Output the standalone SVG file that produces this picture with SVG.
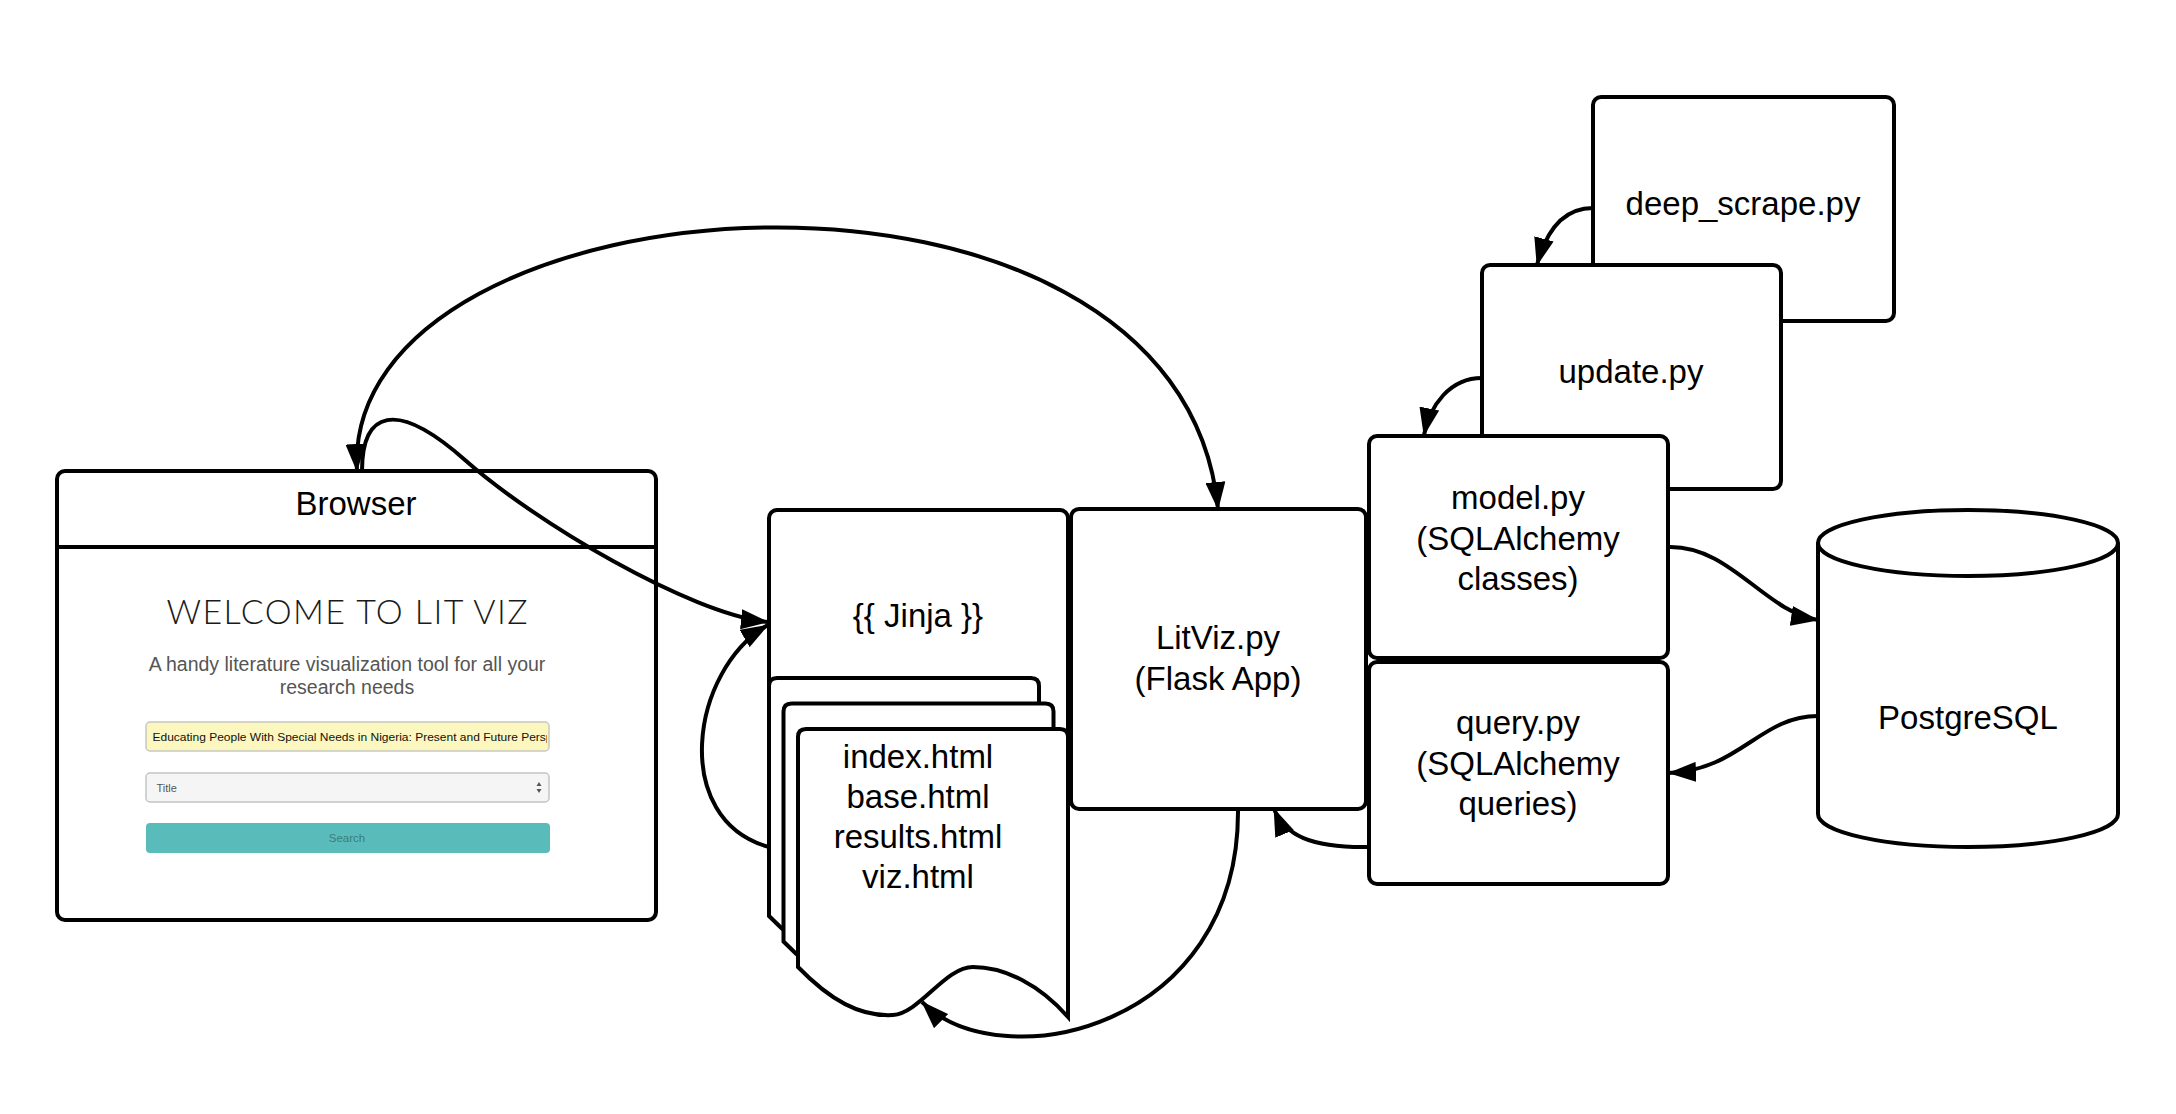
<svg xmlns="http://www.w3.org/2000/svg" width="2176" height="1114" viewBox="0 0 2176 1114">
  <defs>
    <style>
      .box { fill:#fff; stroke:#000; stroke-width:4; }
      .lbl { font-family:"Liberation Sans", Arial, sans-serif; font-size:33px; fill:#000; text-anchor:middle; }
      .conn { fill:none; stroke:#000; stroke-width:4; }
      .ui { font-family:"Liberation Sans", Arial, sans-serif; }
    </style>
    <marker id="arrow" viewBox="0 0 28 20" refX="27" refY="10" markerWidth="28" markerHeight="20" markerUnits="userSpaceOnUse" orient="auto-start-reverse">
      <path d="M0,0 L28,10 L0,20 z" fill="#000"/>
    </marker>
    <clipPath id="inputClip"><rect x="148" y="723" width="399" height="27"/></clipPath>
    <path id="doc" d="M 0 238 L 0 8 Q 0 0 8 0 L 262 0 Q 270 0 270 8 L 270 288 C 242 256 207 238 175 238 C 147 238 122 284 95 286 C 62 288 32 271 0 238 Z"/>
  </defs>
  <rect width="2176" height="1114" fill="#fff"/>

  <g id="browser">
    <rect class="box" x="57" y="471" width="599" height="449" rx="8"/>
    <line x1="57" y1="547" x2="656" y2="547" stroke="#000" stroke-width="4"/>
    <text class="lbl" x="356" y="515">Browser</text>
    <text x="347" y="624" font-family="Lato, 'Liberation Sans', sans-serif" font-size="34" fill="#1a1a1a" text-anchor="middle" font-weight="300" textLength="361" lengthAdjust="spacing">WELCOME TO LIT VIZ</text>
    <text class="ui" x="347" y="671" font-size="19.5" fill="#555" text-anchor="middle">A handy literature visualization tool for all your</text>
    <text class="ui" x="347" y="694" font-size="19.5" fill="#555" text-anchor="middle">research needs</text>
    <rect x="146" y="722" width="403" height="29" rx="4" fill="#fbf7bf" stroke="#c8c8c0" stroke-width="1.5"/>
    <g clip-path="url(#inputClip)">
      <text class="ui" x="152.5" y="741" font-size="11" fill="#111" textLength="400" lengthAdjust="spacingAndGlyphs">Educating People With Special Needs in Nigeria: Present and Future Persp</text>
    </g>
    <rect x="146" y="773" width="403" height="29" rx="4" fill="#f5f5f5" stroke="#c4c4c4" stroke-width="1.5"/>
    <text class="ui" x="156.5" y="792" font-size="11" fill="#555">Title</text>
    <polygon points="536.5,786 541.5,786 539,782" fill="#555"/>
    <polygon points="536.5,789 541.5,789 539,793" fill="#555"/>
    <rect x="146" y="823" width="404" height="30" rx="4" fill="#5abcba"/>
    <text class="ui" x="347" y="842" font-size="11.5" fill="#3a7c7c" text-anchor="middle">Search</text>
  </g>

  <g id="jinja">
    <rect class="box" x="769" y="510" width="299" height="390" rx="8"/>
    <text class="lbl" x="918" y="627">{{ Jinja }}</text>
  </g>

  <g id="templates">
    <use href="#doc" class="box" x="769" y="678"/>
    <use href="#doc" class="box" x="783.5" y="703.5"/>
    <use href="#doc" class="box" x="798" y="729"/>
    <text class="lbl" x="918" y="768">index.html</text>
    <text class="lbl" x="918" y="808">base.html</text>
    <text class="lbl" x="918" y="848">results.html</text>
    <text class="lbl" x="918" y="888">viz.html</text>
  </g>

  <g id="litviz">
    <rect class="box" x="1071" y="509" width="295" height="300" rx="8"/>
    <text class="lbl" x="1218" y="649">LitViz.py</text>
    <text class="lbl" x="1218" y="690">(Flask App)</text>
  </g>

  <g id="deep_scrape">
    <rect class="box" x="1593" y="97" width="301" height="224" rx="8"/>
    <text class="lbl" x="1743" y="215">deep_scrape.py</text>
  </g>

  <g id="update">
    <rect class="box" x="1482" y="265" width="299" height="224" rx="8"/>
    <text class="lbl" x="1631" y="383">update.py</text>
  </g>

  <g id="model">
    <rect class="box" x="1369" y="436" width="299" height="222" rx="8"/>
    <text class="lbl" x="1518" y="509">model.py</text>
    <text class="lbl" x="1518" y="550">(SQLAlchemy</text>
    <text class="lbl" x="1518" y="590">classes)</text>
  </g>

  <g id="query">
    <rect class="box" x="1369" y="662" width="299" height="222" rx="8"/>
    <text class="lbl" x="1518" y="734">query.py</text>
    <text class="lbl" x="1518" y="775">(SQLAlchemy</text>
    <text class="lbl" x="1518" y="815">queries)</text>
  </g>

  <g id="postgresql">
    <path class="box" d="M 1818 543 L 1818 814 A 150 33 0 0 0 2118 814 L 2118 543 A 150 33 0 0 0 1818 543 Z"/>
    <path class="conn" d="M 1818 543 A 150 33 0 0 0 2118 543"/>
    <text class="lbl" x="1968" y="729">PostgreSQL</text>
  </g>

  <g id="connectors">
    <path class="conn" d="M 357 471 C 340 170 1180 110 1218 509" marker-start="url(#arrow)" marker-end="url(#arrow)"/>
    <path class="conn" d="M 362 471 C 362 412 395 398 465 460 S 690 614 768 622" marker-end="url(#arrow)"/>
    <path class="conn" d="M 769 847 C 670 820 690 670 768 625" marker-end="url(#arrow)"/>
    <path class="conn" d="M 1238 809 C 1240 1030 1000 1080 922 1002" marker-end="url(#arrow)"/>
    <path class="conn" d="M 1369 847 C 1310 848 1285 835 1274 809" marker-end="url(#arrow)"/>
    <path class="conn" d="M 1668 547 C 1730 545 1765 612 1818 620" marker-end="url(#arrow)"/>
    <path class="conn" d="M 1818 716 C 1760 716 1740 770 1669 773" marker-end="url(#arrow)"/>
    <path class="conn" d="M 1593 208 C 1560 208 1545 235 1537 265" marker-end="url(#arrow)"/>
    <path class="conn" d="M 1482 378 C 1450 378 1430 405 1424 435" marker-end="url(#arrow)"/>
  </g>
</svg>
